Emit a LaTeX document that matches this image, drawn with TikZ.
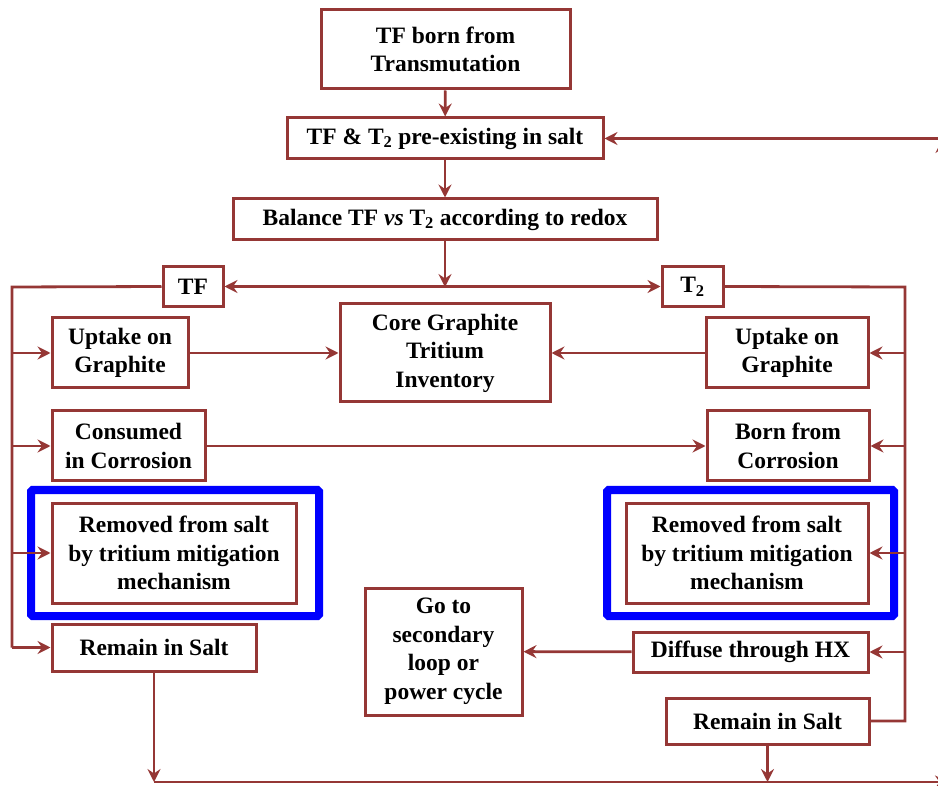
\documentclass[tikz,border=0pt]{standalone}
\usepackage{fontspec}
\setmainfont{Liberation Serif}
\usetikzlibrary{arrows.meta}
\definecolor{brn}{RGB}{149,55,53}
\definecolor{blu}{RGB}{0,0,255}
\begin{document}
\begin{tikzpicture}[x=1pt,y=-1pt,
  box/.style={draw=brn, line width=3pt, fill=white, inner sep=1pt, align=center,
    font=\fontsize{23.5}{28.5}\selectfont\bfseries},
  conn/.style={draw=brn, line width=2.8pt},
  arr/.style={conn, -{Stealth[length=13pt,width=13pt,inset=4.5pt]}},
  arrb/.style={conn, {Stealth[length=13pt,width=13pt,inset=4.5pt]}-{Stealth[length=13pt,width=13pt,inset=4.5pt]}},
  bluebox/.style={draw=blu, line width=8pt, rounded corners=1.5pt}]
\useasboundingbox (0,0) rectangle (938,786);
% blue frames
\node[bluebox, minimum width=288pt, minimum height=126pt] (blueL) at (175,553) {};
\node[bluebox, minimum width=287pt, minimum height=126pt] (blueR) at (750.5,553) {};
% boxes
\node[box, minimum width=249pt, minimum height=79pt] (n1) at (445.5,49.5) {TF born from\\Transmutation};
\node[box, minimum width=316pt, minimum height=41pt] (n2) at (445,138.5) {TF \& T\textsubscript{2} pre-existing in salt};
\node[box, minimum width=424pt, minimum height=41pt] (n3) at (445,219.5) {Balance TF \textit{vs} T\textsubscript{2} according to redox};
\node[box, minimum width=60pt, minimum height=40pt] (tf) at (193,286.5) {TF};
\node[box, minimum width=61pt, minimum height=40pt] (t2) at (692.5,286.5) {T\textsubscript{2}};
\node[box, minimum width=136pt, minimum height=70pt] (upL) at (120,353) {Uptake on\\Graphite};
\node[box, minimum width=210pt, minimum height=98pt] (core) at (445,353) {Core Graphite\\Tritium\\Inventory};
\node[box, minimum width=162pt, minimum height=70pt] (upR) at (787,353) {Uptake on\\Graphite};
\node[box, minimum width=153pt, minimum height=70pt] (conL) at (128.5,446) {Consumed\\in Corrosion};
\node[box, minimum width=162pt, minimum height=70pt] (bornR) at (788,446) {Born from\\Corrosion};
\node[box, minimum width=244pt, minimum height=100pt] (remL) at (174,553) {Removed from salt\\by tritium mitigation\\mechanism};
\node[box, minimum width=242pt, minimum height=100pt] (remR) at (747,553) {Removed from salt\\by tritium mitigation\\mechanism};
\node[box, minimum width=204pt, minimum height=47pt] (salL) at (154,647.5) {Remain in Salt};
\node[box, minimum width=157pt, minimum height=127pt] (go) at (443.5,651.5) {Go to\\secondary\\loop or\\power cycle};
\node[box, minimum width=235pt, minimum height=40pt] (dif) at (750.5,652) {Diffuse through HX};
\node[box, minimum width=203pt, minimum height=46pt] (salR) at (767.5,721) {Remain in Salt};
% coordinates
\coordinate (j) at (445,287);
\coordinate (bLt) at (12,287);
\coordinate (bLb) at (12,647.5);
\coordinate (bRt) at (905,287);
\coordinate (bRb) at (905,721);
\coordinate (botL) at (154,782);
\coordinate (botR) at (767.5,782);
\coordinate (botE) at (948,782);
\coordinate (cornB) at (942,782);
\coordinate (cornT) at (942,140);
% main chain
\draw[arr] (n1) -- (n2);
\draw[arr] (n2) -- (n3);
\draw[arr] (n3) -- (j);
\draw[arrb] (tf) -- (t2);
% left bus
\draw[conn] (tf.west) -- (bLt) -- (bLb);
\draw[arr] (bLb) -- (salL.west);
\draw[arr] (bLt |- upL.west) -- (upL.west);
\draw[arr] (bLt |- conL.west) -- (conL.west);
\draw[arr] (bLt |- remL.west) -- (remL.west);
% right bus
\draw[conn] (t2.east) -- (bRt) -- (bRb) -- (salR.east);
\draw[arr] (bRt |- upR.east) -- (upR.east);
\draw[arr] (bRt |- bornR.east) -- (bornR.east);
\draw[arr] (bRt |- remR.east) -- (remR.east);
\draw[arr] (bRt |- dif.east) -- (dif.east);
% cross links
\draw[arr] (upL) -- (core);
\draw[arr] (upR) -- (core);
\draw[arr] (conL) -- (bornR);
\draw[arr] (dif) -- (go);
% bottom
\draw[arr] (salL) -- (botL);
\draw[arr] (salR) -- (botR);
\draw[arr] (botL) -- (botE);
\draw[arr] (cornB) -- (cornT);
\draw[arr] (cornT |- n2.east) -- (n2.east);
\end{tikzpicture}
\end{document}
